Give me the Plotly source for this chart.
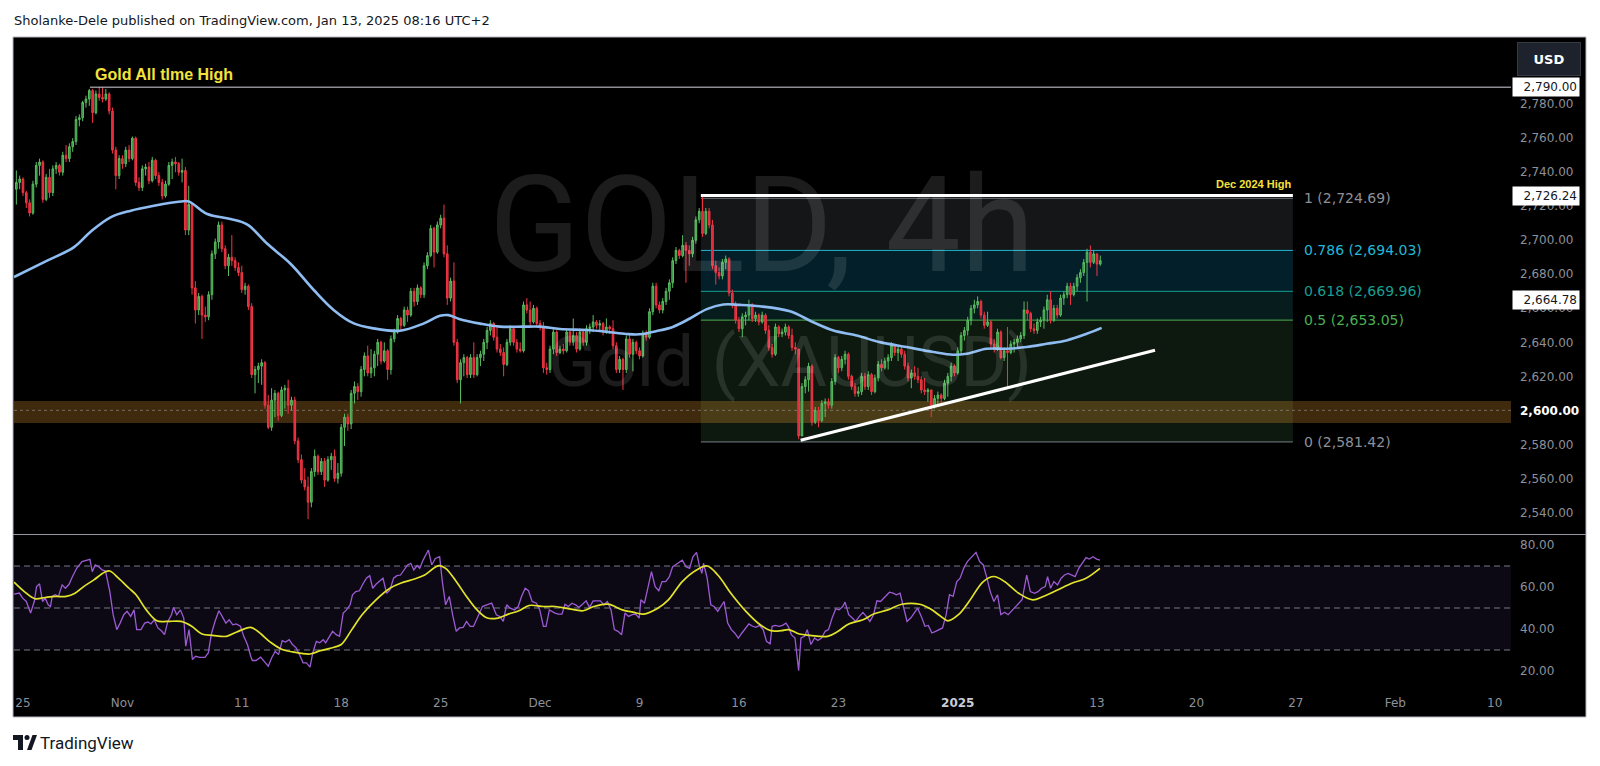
import plotly.graph_objects as go

# ---------------- DATA ----------------
# bar index 0 = first 4h bar of Fri Oct 25 2024 (TradingView-style, weekends compressed)
first_bar = -2
first_open = 2730
closes = [2734, 2736, 2728, 2722, 2716, 2733, 2744, 2746, 2724, 2737, 2728, 2742, 2744, 2740, 2750, 2748, 2755, 2758, 2771, 2772,
          2781, 2783, 2788, 2775, 2786, 2784, 2783, 2786, 2776, 2753, 2738, 2748, 2745, 2753, 2748, 2760, 2734, 2731, 2742, 2743,
          2735, 2747, 2738, 2734, 2726, 2733, 2744, 2746, 2745, 2740, 2741, 2706, 2721, 2672, 2659, 2667, 2656, 2655, 2668, 2692,
          2699, 2709, 2695, 2685, 2690, 2688, 2684, 2681, 2671, 2673, 2661, 2621, 2624, 2626, 2628, 2603, 2590, 2606, 2610, 2597,
          2612, 2613, 2603, 2606, 2582, 2571, 2559, 2555, 2546, 2564, 2573, 2564, 2570, 2559, 2571, 2573, 2560, 2563, 2590, 2596,
          2592, 2610, 2614, 2611, 2624, 2632, 2622, 2625, 2633, 2640, 2629, 2635, 2624, 2642, 2646, 2654, 2650, 2659, 2656, 2670,
          2664, 2672, 2668, 2685, 2691, 2707, 2693, 2709, 2713, 2692, 2666, 2676, 2640, 2618, 2628, 2631, 2621, 2631, 2621, 2631,
          2633, 2640, 2647, 2651, 2643, 2636, 2634, 2627, 2640, 2648, 2640, 2636, 2635, 2662, 2659, 2652, 2660, 2651, 2649, 2625,
          2624, 2636, 2646, 2634, 2636, 2635, 2646, 2640, 2644, 2636, 2646, 2640, 2648, 2649, 2652, 2650, 2651, 2646, 2649, 2648,
          2638, 2624, 2630, 2624, 2642, 2633, 2640, 2635, 2632, 2645, 2643, 2658, 2673, 2662, 2659, 2664, 2670, 2675, 2688, 2694,
          2691, 2697, 2694, 2692, 2700, 2712, 2717, 2704, 2717, 2709, 2685, 2681, 2679, 2687, 2689, 2669, 2662, 2653, 2648, 2655,
          2656, 2662, 2654, 2656, 2652, 2656, 2647, 2637, 2633, 2649, 2645, 2646, 2649, 2644, 2637, 2636, 2585, 2614, 2618, 2626,
          2593, 2600, 2594, 2604, 2605, 2603, 2617, 2631, 2625, 2630, 2633, 2620, 2614, 2610, 2611, 2620, 2614, 2621, 2611, 2619,
          2627, 2625, 2629, 2631, 2638, 2634, 2636, 2633, 2626, 2619, 2622, 2620, 2618, 2612, 2611, 2612, 2603, 2607, 2609, 2607,
          2616, 2620, 2626, 2622, 2635, 2644, 2647, 2653, 2660, 2662, 2664, 2656, 2650, 2652, 2639, 2636, 2646, 2631, 2635, 2634,
          2639, 2640, 2642, 2644, 2659, 2657, 2648, 2647, 2652, 2653, 2659, 2665, 2653, 2660, 2656, 2666, 2668, 2673, 2668, 2673,
          2678, 2681, 2687, 2693, 2687, 2692, 2686, 2688]
highs = [2741, 2738, 2737, 2729, 2724, 2735, 2746, 2748, 2747, 2739, 2742, 2744, 2746, 2745, 2752, 2756, 2757, 2760, 2773, 2774,
         2782, 2785, 2789, 2789, 2788, 2790, 2790, 2789, 2787, 2778, 2755, 2750, 2750, 2755, 2756, 2761, 2761, 2737, 2744, 2745,
         2746, 2749, 2748, 2740, 2736, 2735, 2746, 2748, 2749, 2746, 2748, 2743, 2732, 2722, 2676, 2669, 2668, 2661, 2670, 2694,
         2701, 2711, 2711, 2697, 2692, 2703, 2690, 2687, 2685, 2675, 2674, 2663, 2626, 2628, 2630, 2629, 2609, 2613, 2612, 2611,
         2614, 2615, 2618, 2608, 2608, 2584, 2574, 2566, 2561, 2566, 2577, 2574, 2572, 2572, 2573, 2575, 2577, 2569, 2592, 2598,
         2598, 2612, 2617, 2616, 2626, 2634, 2638, 2636, 2635, 2642, 2641, 2640, 2636, 2644, 2648, 2656, 2655, 2661, 2661, 2672,
         2672, 2674, 2673, 2687, 2693, 2709, 2708, 2711, 2715, 2721, 2697, 2678, 2687, 2642, 2630, 2633, 2632, 2633, 2640, 2633,
         2635, 2642, 2649, 2653, 2652, 2650, 2639, 2637, 2642, 2650, 2649, 2642, 2640, 2664, 2666, 2664, 2662, 2661, 2653, 2652,
         2628, 2638, 2648, 2647, 2638, 2639, 2648, 2648, 2654, 2646, 2648, 2647, 2650, 2651, 2656, 2653, 2653, 2652, 2654, 2650,
         2653, 2640, 2632, 2631, 2644, 2645, 2642, 2641, 2637, 2647, 2647, 2660, 2675, 2675, 2664, 2666, 2672, 2677, 2690, 2696,
         2695, 2703, 2699, 2697, 2702, 2714, 2719, 2726, 2719, 2719, 2712, 2688, 2684, 2689, 2691, 2690, 2671, 2664, 2655, 2657,
         2658, 2665, 2663, 2658, 2657, 2658, 2657, 2650, 2639, 2651, 2650, 2648, 2651, 2650, 2648, 2640, 2636, 2616, 2620, 2628,
         2627, 2602, 2602, 2606, 2607, 2607, 2619, 2633, 2632, 2632, 2635, 2634, 2621, 2616, 2614, 2622, 2622, 2623, 2622, 2621,
         2629, 2630, 2631, 2633, 2640, 2639, 2638, 2638, 2635, 2628, 2624, 2626, 2625, 2620, 2619, 2613, 2612, 2609, 2611, 2610,
         2618, 2622, 2628, 2627, 2637, 2646, 2649, 2655, 2662, 2665, 2667, 2665, 2658, 2658, 2653, 2642, 2648, 2647, 2637, 2649,
         2641, 2642, 2644, 2646, 2664, 2664, 2658, 2651, 2654, 2655, 2661, 2668, 2670, 2662, 2662, 2668, 2670, 2675, 2675, 2675,
         2680, 2683, 2689, 2695, 2697, 2694, 2692, 2691]
lows = [2721, 2730, 2726, 2719, 2714, 2715, 2731, 2738, 2722, 2723, 2725, 2726, 2739, 2738, 2738, 2746, 2746, 2752, 2756, 2767,
        2770, 2778, 2779, 2769, 2774, 2782, 2781, 2782, 2774, 2751, 2730, 2736, 2742, 2743, 2746, 2747, 2732, 2729, 2729, 2738,
        2733, 2734, 2736, 2732, 2724, 2725, 2732, 2736, 2740, 2738, 2734, 2703, 2703, 2668, 2651, 2656, 2642, 2652, 2653, 2665,
        2689, 2695, 2693, 2683, 2679, 2685, 2682, 2679, 2669, 2668, 2659, 2619, 2610, 2616, 2615, 2601, 2589, 2588, 2596, 2594,
        2596, 2601, 2598, 2600, 2580, 2569, 2557, 2553, 2536, 2543, 2561, 2562, 2562, 2555, 2558, 2565, 2558, 2557, 2561, 2579,
        2588, 2589, 2604, 2606, 2608, 2620, 2620, 2619, 2620, 2626, 2627, 2628, 2618, 2621, 2640, 2645, 2647, 2649, 2652, 2655,
        2661, 2662, 2666, 2666, 2683, 2690, 2684, 2692, 2707, 2690, 2662, 2664, 2638, 2616, 2604, 2620, 2619, 2619, 2619, 2620,
        2626, 2629, 2636, 2644, 2641, 2634, 2632, 2620, 2626, 2638, 2638, 2634, 2634, 2634, 2657, 2650, 2651, 2649, 2647, 2622,
        2621, 2622, 2633, 2632, 2633, 2633, 2634, 2638, 2638, 2634, 2635, 2638, 2638, 2645, 2646, 2648, 2646, 2644, 2645, 2645,
        2636, 2622, 2622, 2612, 2622, 2631, 2623, 2633, 2630, 2631, 2641, 2642, 2656, 2660, 2657, 2657, 2662, 2665, 2672, 2686,
        2689, 2690, 2675, 2685, 2690, 2698, 2710, 2702, 2703, 2707, 2683, 2674, 2677, 2677, 2683, 2667, 2660, 2651, 2646, 2643,
        2650, 2653, 2652, 2652, 2650, 2651, 2645, 2635, 2631, 2632, 2643, 2643, 2644, 2642, 2635, 2633, 2583, 2586, 2610, 2611,
        2591, 2592, 2590, 2593, 2596, 2601, 2601, 2615, 2622, 2623, 2627, 2618, 2612, 2608, 2608, 2609, 2612, 2612, 2609, 2610,
        2617, 2623, 2624, 2624, 2629, 2632, 2629, 2631, 2624, 2617, 2613, 2618, 2616, 2610, 2609, 2605, 2596, 2601, 2602, 2604,
        2606, 2608, 2617, 2620, 2621, 2633, 2641, 2644, 2650, 2657, 2660, 2654, 2648, 2649, 2637, 2634, 2635, 2630, 2629, 2614,
        2633, 2634, 2637, 2640, 2642, 2653, 2646, 2645, 2645, 2649, 2648, 2652, 2651, 2652, 2654, 2655, 2662, 2666, 2662, 2667,
        2670, 2675, 2679, 2664, 2684, 2686, 2679, 2685]

# 100-period moving average (blue), sampled at bar indices
ma_idx = [-2.7, 7.3, 15.4, 20.4, 26.4, 32.5, 39.5, 47.6, 50, 55.6, 62.6, 67.7, 73.7, 80.7, 87.8, 93.8, 99.8, 105.7,
          113.7, 120.8, 125.8, 128.3, 131.8, 137.9, 143.9, 150.9, 156, 162, 170, 176, 182, 186, 191.2, 196.2, 201.2,
          206.3, 211.3, 216.3, 222.3, 231.4, 238.4, 244.5, 251.5, 258.5, 266.6, 274.6, 280.6, 284.7, 290.7, 296.7,
          302.8, 308.8, 314.8, 320.9, 325.4]
ma_val = [2678.4, 2688, 2696, 2705, 2713.5, 2717.4, 2720.3, 2722.8, 2722.8, 2715.4, 2712.5, 2709.2, 2697.9, 2686.2,
          2670.6, 2658.9, 2651.1, 2648.2, 2646.8, 2651, 2655.6, 2656, 2653.6, 2651, 2649.2, 2649.2, 2649.2, 2647.8,
          2647.2, 2646.2, 2644.9, 2644.7, 2646.6, 2649.2, 2654, 2659.5, 2662.2, 2662, 2661.2, 2658.2, 2651.8, 2646.9,
          2644, 2640.1, 2637.2, 2634.3, 2632.7, 2633.3, 2636.2, 2636.2, 2637.2, 2639.1, 2641.1, 2645, 2648.5]

# RSI (purple)
rsi_idx = [-2.7, -1.1, -0.1, 1.0, 2.3, 3.4, 4.1, 5.0, 5.9, 6.7, 7.6, 8.3, 8.8, 9.7, 10.7, 11.8, 12.8, 13.9, 14.9, 16.2,
           17.8, 19.3, 20.2, 20.9, 21.8, 22.8, 23.9, 24.9, 26.2, 27.2, 28.3, 29.3, 30.4, 31.4, 32.5, 33.5, 34.3, 35.6, 36.7,
           37.7, 38.6, 39.6, 40.7, 41.9, 42.7, 43.7, 44.8, 45.4, 46.4, 47.5, 48.5, 49.1, 50.1, 51.1, 52.1, 53.3, 54.9, 55.9,
           56.9, 58.0, 59.1, 60.1, 61.2, 62.2, 63.3, 64.3, 65.6, 66.6, 67.7, 68.7, 69.2, 70.3, 71.7, 72.7, 74.0, 75.0, 76.1,
           77.1, 78.2, 79.2, 80.3, 81.3, 82.4, 83.4, 84.5, 85.5, 86.6, 87.4, 88.5, 89.5, 90.6, 91.3, 92.4, 93.4, 94.5, 95.5,
           96.6, 97.6, 98.7, 99.4, 100.4, 101.5, 102.5, 103.6, 104.6, 105.5, 106.5, 107.6, 108.6, 109.7, 110.7, 111.8,
           112.8, 113.9, 114.9, 116.0, 117.0, 117.9, 118.9, 119.7, 120.7, 122.3, 123.3, 124.4, 125.7, 126.5, 127.5, 128.6,
           129.6, 130.7, 131.7, 132.8, 133.8, 134.9, 135.9, 137.2, 138.6, 139.9, 141.4, 142.8, 143.8, 144.9, 145.9, 147.0,
           148.3, 149.4, 150.4, 151.5, 152.5, 153.6, 154.9, 155.9, 157.0, 157.8, 158.8,
           160.5, 161.5, 162.6, 163.5, 164.5, 165.6, 166.7, 167.7, 168.8, 169.9, 170.9, 172.0, 173.1, 174.2, 175.2, 176.3,
           177.4, 178.4, 179.5, 180.6, 181.6, 182.7, 183.8, 184.8, 185.9, 186.4, 187.5, 188.6, 189.6, 190.7, 191.8, 192.8,
           193.9, 195.0, 196.0, 197.1, 198.2, 198.9, 200.0, 201.1, 202.1, 203.2, 204.0, 204.8, 205.3, 206.4, 207.5, 208.5,
           209.6, 210.7, 211.5, 212.6, 213.7, 214.7, 215.8, 216.9, 217.9, 219.0, 220.1, 221.1, 222.2, 223.3, 224.3, 225.4,
           226.0, 227.0, 228.1, 229.1, 230.2, 231.0, 231.8, 232.9, 234.0, 234.7, 235.8, 236.6, 237.7, 238.8, 239.8, 240.9,
           242.0, 243.0, 244.1, 245.2, 246.2, 247.3, 248.0, 249.1, 250.2, 251.2, 252.3, 253.4, 254.4, 255.5, 256.6, 257.6,
           258.7, 259.8, 261.4, 262.5, 263.5, 264.6, 265.7, 266.7, 267.8, 268.9, 269.9, 271.0, 272.1, 273.1, 274.2, 275.3,
           276.3, 277.4, 278.5, 279.5, 280.6, 281.7, 282.7, 283.8, 284.9, 286.3, 287.5, 288.6, 289.7, 290.8, 291.8, 292.9,
           294.0, 295.0, 296.1, 297.2, 298.2, 299.3, 300.4, 301.4, 302.8, 303.9, 305.2, 306.2, 307.3, 308.4, 309.1, 310.0,
           311.0, 312.1, 313.2, 314.2, 315.3, 316.4, 317.4, 318.5, 319.6, 320.7, 321.7, 322.8, 323.9, 324.9]
rsi_val = [56.6, 57.1, 54.7, 53.1, 47.6, 53.1, 60.2, 61.5, 53.1, 54.7, 51.5, 50.7, 55.5, 56.3, 55.5, 61.0, 59.4, 61.3, 64.9,
           68.9, 72.1, 72.8, 73.2, 67.3, 70.5, 69.7, 68.1, 67.6, 57.8, 46.8, 39.7, 42.8, 46.8, 48.4, 46.0, 49.1, 39.7, 39.7,
           42.8, 43.3, 42.4, 44.4, 40.5, 38.9, 37.3, 43.6, 46.8, 50.3, 46.8, 49.1, 45.2, 31.8, 39.7, 25.5, 27.0, 26.5, 26.5,
           28.6, 38.1, 43.9, 48.7, 46.0, 42.8, 44.4, 42.0, 42.4, 41.3, 36.5, 32.6, 27.0, 25.0, 25.0, 26.6, 24.7, 22.3, 26.2,
           29.4, 27.8, 34.5, 33.8, 34.9, 32.6, 31.0, 27.8, 23.9, 23.9, 21.8, 28.6, 34.1, 33.4, 34.9, 33.4, 36.5, 38.9, 37.3,
           36.5, 47.6, 49.1, 51.5, 56.3, 57.8, 58.2, 61.3, 64.2, 65.4, 59.4, 61.3, 62.6, 64.2, 57.0, 58.6, 64.2, 65.4, 65.7,
           68.1, 70.5, 71.3, 68.1, 70.2, 68.9, 72.8, 77.6, 70.5, 73.6, 74.4, 62.6, 51.5, 55.5, 46.8, 38.9, 40.5, 40.8, 43.6,
           41.2, 41.2, 46.0, 50.7, 51.5, 52.3, 46.8, 46.0, 43.6, 51.5, 49.9, 49.1, 50.7, 55.5, 59.4, 58.2, 53.1, 52.3, 49.1,
           41.2, 41.2, 49.1,
           47.6, 47.1, 47.1, 51.8, 50.7, 52.3, 51.5, 50.3, 51.8, 53.4, 50.3, 53.4, 53.4, 53.4, 51.5, 53.1, 49.1, 39.7, 38.9,
           37.3, 47.6, 46.0, 46.8, 47.1, 45.2, 53.9, 52.3, 61.0, 67.3, 60.2, 58.2, 62.6, 62.6, 64.9, 69.7, 70.8, 72.1, 72.8,
           69.7, 68.9, 74.4, 76.5, 70.5, 66.5, 71.3, 64.2, 51.5, 50.7, 48.4, 51.5, 53.1, 42.8, 39.7, 38.1, 35.7, 38.1, 40.0,
           42.4, 41.3, 40.8, 41.7, 39.7, 34.1, 32.9, 41.3, 41.7, 41.3, 41.7, 42.8, 40.8, 37.3, 35.7, 20.2, 35.7, 36.5, 39.7,
           32.6, 35.7, 34.5, 35.7, 38.9, 39.7, 45.2, 49.6, 49.1, 50.7, 52.8, 46.8, 45.2, 43.6, 46.0, 47.9, 46.0, 43.6, 46.8,
           53.4, 53.1, 55.0, 57.5, 57.1, 56.3, 57.1, 49.9, 43.6, 45.2, 47.6, 49.9, 46.0, 41.3, 41.7, 38.1, 38.9, 39.7, 40.5,
           46.8, 56.3, 55.5, 62.6, 64.2, 68.9, 72.1, 74.4, 76.5, 72.1, 70.5, 64.2, 57.8, 53.1, 56.3, 46.8, 48.0, 46.8, 48.4,
           50.3, 51.8, 53.9, 65.7, 57.8, 57.0, 57.8, 59.4, 60.2, 64.9, 59.4, 62.6, 61.0, 64.2, 65.7, 66.5, 65.7, 64.9, 68.9,
           71.3, 74.0, 73.3, 74.4, 73.3, 72.8]

# RSI-based moving average (yellow)
rsima_idx = [-2.7, 0.4, 3.6, 6.7, 9.9, 13.0, 15.7, 18.3, 21.4, 24.6, 26.2, 28.8, 32.0, 34.1, 37.2, 40.4, 43.5, 47.7, 50.9,
             54.0, 57.2, 61.4, 64.5, 68.7, 70.8, 75.0, 78.2, 81.3, 86.6, 89.7, 93.9, 96.0, 99.2, 102.3, 106.5, 110.7, 113.9,
             118.1, 121.2, 125.4, 127.5, 130.7, 133.8, 137.0, 140.1, 143.3, 146.4, 149.6, 152.7, 157.0,
             160.5, 164.8, 169.0, 172.2, 176.5, 180.8, 184.0, 187.2, 191.5, 194.7, 198.9, 203.2, 206.4, 209.6, 213.9, 218.1,
             222.4, 225.6, 228.8, 231.0, 234.2, 237.4, 242.7, 245.9, 249.1, 253.4, 256.6, 260.9, 265.1, 270.5, 273.7, 276.9,
             279.0, 282.2, 285.4, 289.7, 292.9, 296.1, 300.4, 304.6, 307.8, 312.1, 316.4, 320.7, 324.9]
rsima_val = [62.3, 57.8, 54.4, 55.0, 55.5, 55.5, 57.0, 60.2, 63.4, 67.0, 67.6, 64.2, 59.4, 56.3, 49.1, 43.9, 43.6, 43.6, 41.3,
             37.6, 37.0, 36.5, 38.6, 40.8, 38.9, 33.3, 30.2, 29.1, 28.1, 29.7, 31.3, 32.6, 39.7, 46.8, 53.9, 59.4, 61.8, 63.8,
             65.7, 70.2, 68.9, 62.6, 55.5, 49.1, 45.2, 45.2, 47.1, 48.7, 51.2, 50.7,
             50.7, 49.6, 48.7, 50.7, 51.8, 49.1, 48.0, 47.1, 49.9, 53.9, 62.6, 68.1, 70.0, 65.7, 56.3, 48.4, 42.0, 39.2, 39.2,
             39.7, 37.6, 37.0, 36.5, 38.9, 42.4, 44.4, 47.1, 49.1, 51.8, 51.8, 49.6, 46.0, 43.9, 46.8, 53.1, 62.6, 65.0, 62.6,
             57.0, 53.9, 55.5, 58.6, 61.8, 64.2, 68.9]

# date axis (bar index -> label)
date_tick_idx = [0, 30, 66, 96, 126, 156, 186, 216, 246, 282, 324, 354, 384, 414, 444]
date_tick_lbl = ['25', 'Nov', '11', '18', '25', 'Dec', '9', '16', '23', '2025', '13', '20', '27', 'Feb', '10']

price_ticks = [2540, 2560, 2580, 2600, 2620, 2640, 2660, 2680, 2700, 2720, 2740, 2760, 2780]
rsi_ticks = [20, 40, 60, 80]
rsi_levels = [70, 50, 30]

# drawings
fib_levels = [1, 0.786, 0.618, 0.5, 0]
fib_prices = [2724.69, 2694.03, 2669.96, 2653.05, 2581.42]
fib_x = [204.5, 383.1]
ath_price = 2790.00
ath_x = 20.2
dec_high_price = 2726.24
zone_prices = [2592.5, 2605.5]
zone_mid = 2600
trend_x = [234.6, 341.5]
trend_y = [2582.4, 2635.3]
axis_marks = [2790.00, 2726.24, 2664.78]

# ---------------- FIGURE ----------------
# page has an 8px body margin: figure placed at (8, 8) in the 1600x766 window
OFF = 8
W, H = 1600 - 2 * OFF, 766 - 2 * OFF
ML, MT = 14 - OFF, 37 - OFF
PW, PH = 1497, 648
MR, MB = W - ML - PW, H - MT - PH


def px(x):  # page-pixel x -> paper
    return (x - 14) / PW


def py(y):  # page-pixel y -> paper
    return (685 - y) / PH


XR = [-2.71, 448.9]
YR = [2527.3, 2819.5]
Y2R = [13.33, 84.76]

bars = list(range(first_bar, first_bar + len(closes)))
opens = [first_open] + closes[:-1]

fig = go.Figure()
fig.add_trace(go.Candlestick(
    x=bars, open=opens, high=highs, low=lows, close=closes,
    increasing=dict(line=dict(color='#5bbd62', width=1), fillcolor='#2d8f3a'),
    decreasing=dict(line=dict(color='#f23645', width=1), fillcolor='#d8283c'),
    whiskerwidth=0, hoverinfo='skip', xaxis='x', yaxis='y', showlegend=False))
fig.add_trace(go.Scatter(x=ma_idx, y=ma_val, mode='lines', line=dict(color='#8fbdf2', width=2.6, shape='spline', smoothing=1.0),
                         hoverinfo='skip', xaxis='x', yaxis='y', showlegend=False))
fig.add_trace(go.Scatter(x=rsi_idx, y=rsi_val, mode='lines', line=dict(color='#9c5bd4', width=1.3),
                         hoverinfo='skip', xaxis='x', yaxis='y2', showlegend=False))
fig.add_trace(go.Scatter(x=rsima_idx, y=rsima_val, mode='lines', line=dict(color='#e2e42c', width=1.7, shape='spline', smoothing=1.0),
                         hoverinfo='skip', xaxis='x', yaxis='y2', showlegend=False))

shapes = []
# chart frame
shapes.append(dict(type='rect', xref='paper', yref='paper', x0=px(13), x1=px(1586), y0=py(717), y1=py(37),
                   fillcolor='#000000', line=dict(color='#b2b5be', width=1), layer='below'))
# fib fills
fib_fill = ['#151618', '#03202a', '#061c1d', '#0d190e']
for k in range(4):
    shapes.append(dict(type='rect', xref='x', yref='y', x0=fib_x[0], x1=fib_x[1], y0=fib_prices[k + 1], y1=fib_prices[k],
                       fillcolor=fib_fill[k], line=dict(width=0), layer='below'))
# support zone
shapes.append(dict(type='rect', xref='x', yref='y', x0=XR[0], x1=XR[1], y0=zone_prices[0], y1=zone_prices[1],
                   fillcolor='rgba(255,168,50,0.25)', line=dict(width=0), layer='below'))
shapes.append(dict(type='line', xref='x', yref='y', x0=XR[0], x1=XR[1], y0=zone_mid, y1=zone_mid,
                   line=dict(color='rgba(150,150,150,0.6)', width=1, dash='dot'), layer='below'))
# fib lines
fib_line_col = ['#787b86', '#1fb6d2', '#139e8f', '#4caf50', '#787b86']
for k, p in enumerate(fib_prices):
    shapes.append(dict(type='line', xref='x', yref='y', x0=fib_x[0], x1=fib_x[1], y0=p, y1=p,
                       line=dict(color=fib_line_col[k], width=1), layer='below'))
# RSI band + levels
shapes.append(dict(type='rect', xref='x', yref='y2', x0=XR[0], x1=XR[1], y0=rsi_levels[2], y1=rsi_levels[0],
                   fillcolor='rgba(126,87,194,0.1)', line=dict(width=0), layer='below'))
for lv in rsi_levels:
    shapes.append(dict(type='line', xref='x', yref='y2', x0=XR[0], x1=XR[1], y0=lv, y1=lv,
                       line=dict(color='#787b86', width=1, dash='6px,4px'), layer='below'))
# ATH line, Dec high line, trendline
shapes.append(dict(type='line', xref='x', yref='y', x0=ath_x, x1=XR[1], y0=ath_price, y1=ath_price,
                   line=dict(color='#d1d4dc', width=1)))
shapes.append(dict(type='line', xref='x', yref='y', x0=fib_x[0], x1=fib_x[1], y0=dec_high_price, y1=dec_high_price,
                   line=dict(color='#ffffff', width=3)))
shapes.append(dict(type='line', xref='x', yref='y', x0=trend_x[0], x1=trend_x[1], y0=trend_y[0], y1=trend_y[1],
                   line=dict(color='#ffffff', width=3)))
# pane separator
shapes.append(dict(type='line', xref='paper', yref='paper', x0=px(13), x1=px(1586), y0=py(534.5), y1=py(534.5),
                   line=dict(color='#9598a1', width=1)))
# TradingView logo
logo = '#131722'
shapes.append(dict(type='rect', xref='paper', yref='paper', x0=px(13), x1=px(23), y0=py(740), y1=py(735),
                   fillcolor=logo, line=dict(width=0)))
shapes.append(dict(type='rect', xref='paper', yref='paper', x0=px(18), x1=px(23), y0=py(750), y1=py(735),
                   fillcolor=logo, line=dict(width=0)))
shapes.append(dict(type='circle', xref='paper', yref='paper', x0=px(24.5), x1=px(29.5), y0=py(740), y1=py(735),
                   fillcolor=logo, line=dict(width=0)))
shapes.append(dict(type='path', xref='paper', yref='paper',
                   path=f'M {px(27)} {py(750)} L {px(31.5)} {py(750)} L {px(37)} {py(735)} L {px(32.5)} {py(735)} Z',
                   fillcolor=logo, line=dict(width=0)))

ann = []
AX = '#8d9099'


def A(text, x, y, size, color, family='DejaVu Sans', xanchor='left', yanchor='middle', xref='paper', yref='paper', **kw):
    ann.append(dict(text=text, x=x, y=y, xref=xref, yref=yref, xanchor=xanchor, yanchor=yanchor, showarrow=False,
                    font=dict(size=size, color=color, family=family), **kw))


# watermark
A('GOLD, 4h', px(762), py(226), 134, 'rgba(255,255,255,0.11)', family='Roboto', xanchor='center')
A('Gold (XAUUSD)', px(790), py(361), 71, 'rgba(255,255,255,0.11)', family='Roboto', xanchor='center')
# header & footer
A('Sholanke-Dele published on TradingView.com, Jan 13, 2025 08:16 UTC+2', px(12), py(21), 13, '#131722')
A('TradingView', px(38), py(743), 17, '#131722', family='Roboto')
# drawing labels
A('<b>Gold All tlme High</b>', px(93), py(74), 16, '#f5e23c', family='Liberation Sans')
A('<b>Dec 2024 High</b>', px(1293), py(184), 11, '#f5e23c', family='Liberation Sans', xanchor='right')
fib_txt_col = ['#8d9099', '#22b8d6', '#1a9e90', '#4caf50', '#8d9099']
for k, (lv, p) in enumerate(zip(fib_levels, fib_prices)):
    A(f'{lv:g} ({p:,.2f})', 385.8, p, 14, fib_txt_col[k], xref='x', yref='y')
# axis price marks
for p in axis_marks:
    A(f'{p:,.2f}', px(1512), p, 12, '#131722', yref='y', bgcolor='#ffffff', width=62, align='right', borderpad=2)
# USD button
A('<b>USD</b>', px(1549), py(59), 13, '#ffffff', xanchor='center', bgcolor='#1e222d', bordercolor='#363a45',
  borderwidth=1, width=58, height=28, borderpad=2)

price_lbl = [f'{v:,.2f}' if v != zone_mid else f'<span style="color:#ffffff"><b>{v:,.2f}</b></span>' for v in price_ticks]
date_lbl = [f'<span style="color:#c9ccd4"><b>{t}</b></span>' if t == '2025' else t for t in date_tick_lbl]

fig.update_layout(
    width=W, height=H, autosize=False,
    margin=dict(l=ML, r=MR, t=MT, b=MB, pad=0),
    paper_bgcolor='#ffffff', plot_bgcolor='#000000',
    hovermode=False, showlegend=False, dragmode=False,
    shapes=shapes, annotations=ann,
    xaxis=dict(domain=[0, 1], range=XR, anchor='y2', tickmode='array', tickvals=date_tick_idx, ticktext=date_lbl,
               tickfont=dict(family='DejaVu Sans', size=12, color=AX), showgrid=False, zeroline=False,
               showline=False, ticks='', rangeslider=dict(visible=False), ticklabelstandoff=9, fixedrange=True),
    yaxis=dict(domain=[py(534), 1], range=YR, side='right', anchor='x', tickmode='array', tickvals=price_ticks,
               ticktext=price_lbl, tickfont=dict(family='DejaVu Sans', size=12, color=AX), showgrid=False,
               zeroline=False, showline=False, ticks='', ticklabelstandoff=8, fixedrange=True),
    yaxis2=dict(domain=[0, py(535)], range=Y2R, side='right', anchor='x', tickmode='array', tickvals=rsi_ticks,
                ticktext=[f'{v:.2f}' for v in rsi_ticks], tickfont=dict(family='DejaVu Sans', size=12, color=AX),
                showgrid=False, zeroline=False, showline=False, ticks='', ticklabelstandoff=8, fixedrange=True),
)

fig.write_html('out.html', config={'displayModeBar': False})
